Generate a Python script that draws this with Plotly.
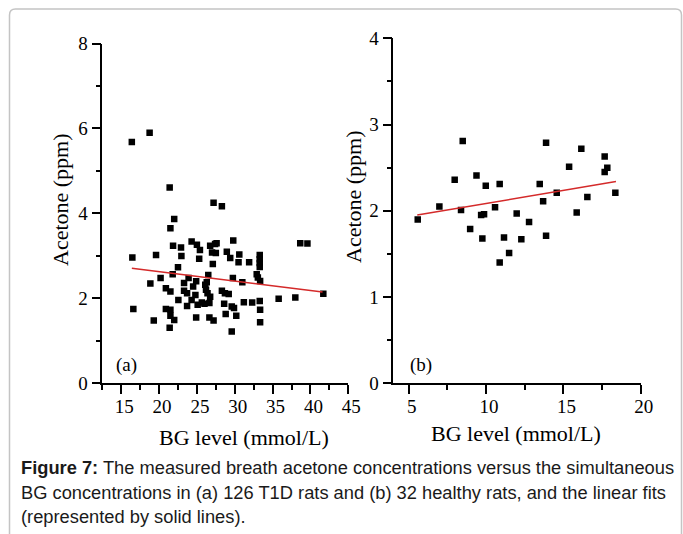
import plotly.graph_objects as go

# ---------------- data ----------------
# Panel (a): 126 T1D rats
bg_a = [16.4, 18.75, 21.4, 27.2, 28.3, 22.0, 21.5,
        16.47, 16.6, 19.6, 18.85, 19.3, 20.2, 20.9, 21.5, 20.9, 21.5,
        21.5, 22.0, 21.4, 21.85, 22.9, 22.95, 22.5, 21.8, 22.55, 23.7,
        23.3, 23.3, 23.9, 23.7, 24.3, 25.0, 25.4, 25.3, 24.9, 24.5,
        24.8, 24.3, 25.1, 24.9, 25.65, 26.3, 26.1, 26.2, 26.4, 26.5,
        26.75, 26.65, 26.0, 26.75, 27.0, 27.4, 27.6, 27.5, 27.1, 26.65,
        27.2,
        29.8, 30.6, 30.5, 31.9, 33.3, 33.3, 33.3, 33.3, 32.9, 33.05,
        33.35, 29.75, 31.0, 28.3, 28.7, 29.2, 28.6, 29.6, 29.9, 28.8,
        30.2, 29.6, 31.2, 32.3, 33.3, 33.35, 33.35, 35.8, 38.0, 38.65,
        39.6, 41.7, 28.95, 29.4]
acetone_a = [5.68, 5.90, 4.61, 4.25, 4.17, 3.87, 3.65,
             2.96, 1.75, 3.02, 2.35, 1.48, 2.48, 2.24, 2.16, 1.75, 1.73,
             1.59, 1.49, 1.31, 3.24, 3.20, 3.00, 2.73, 2.57, 1.96, 1.82,
             2.36, 2.18, 2.48, 2.12, 3.34, 3.26, 3.14, 2.93, 2.40, 2.28,
             2.08, 1.96, 1.85, 1.55, 1.90, 2.38, 2.32, 2.20, 2.12, 2.55,
             2.04, 1.89, 1.87, 3.24, 3.08, 3.28, 3.30, 3.07, 2.81, 1.55,
             1.48,
             3.36, 3.03, 2.85, 2.85, 3.02, 2.92, 2.83, 2.74, 2.57, 2.49,
             2.41, 2.48, 2.38, 2.18, 2.12, 2.10, 1.87, 1.81, 1.77, 1.63,
             1.59, 1.22, 1.91, 1.90, 1.94, 1.73, 1.44, 1.99, 2.02, 3.30,
             3.29, 2.11, 3.10, 2.95]
fit_a_x = [16.4, 41.6]
fit_a_y = [2.71, 2.15]

# Panel (b): 32 healthy rats
bg_b = [5.58, 6.98, 7.97, 8.38, 8.49, 8.97, 9.38, 9.68, 9.87, 9.76,
        9.98, 10.58, 10.88, 10.88, 11.16, 11.49, 11.98, 12.28, 12.78, 13.47,
        13.69, 13.88, 13.88, 14.57, 15.37, 15.86, 16.16, 16.55, 17.67, 17.67,
        17.84, 18.36]
acetone_b = [1.90, 2.05, 2.36, 2.01, 2.81, 1.79, 2.41, 1.95, 1.96, 1.68,
             2.29, 2.04, 2.31, 1.40, 1.69, 1.51, 1.97, 1.67, 1.87, 2.31,
             2.11, 2.79, 1.71, 2.21, 2.51, 1.98, 2.72, 2.16, 2.63, 2.45,
             2.50, 2.21]
fit_b_x = [5.55, 18.4]
fit_b_y = [1.95, 2.34]

x_ticks_a = [15, 20, 25, 30, 35, 40, 45]
y_ticks_a = [0, 2, 4, 6, 8]
x_ticks_b = [5, 10, 15, 20]
y_ticks_b = [0, 1, 2, 3, 4]

x_title = "BG level (mmol/L)"
y_title = "Acetone (ppm)"
caption_lines = [
    "<b>Figure 7:</b> The measured breath acetone concentrations versus the simultaneous",
    "BG concentrations in (a) 126 T1D rats and (b) 32 healthy rats, and the linear fits",
    "(represented by solid lines).",
]

# ---------------- figure ----------------
W, H = 683, 534
SERIF = "Liberation Serif, Times New Roman, serif"
SANS = "Liberation Sans, Arial, sans-serif"

def px(x):
    return x / W

def py(y):
    return 1 - y / H

fig = go.Figure()
marker = dict(symbol="square", size=6.5, color="black", line=dict(width=0))
fig.add_trace(go.Scatter(x=bg_a, y=acetone_a, mode="markers", marker=marker,
                         xaxis="x", yaxis="y", showlegend=False))
fig.add_trace(go.Scatter(x=fit_a_x, y=fit_a_y, mode="lines",
                         line=dict(color="#d42a2a", width=1.5),
                         xaxis="x", yaxis="y", showlegend=False))
fig.add_trace(go.Scatter(x=bg_b, y=acetone_b, mode="markers", marker=marker,
                         xaxis="x2", yaxis="y2", showlegend=False))
fig.add_trace(go.Scatter(x=fit_b_x, y=fit_b_y, mode="lines",
                         line=dict(color="#d42a2a", width=1.5),
                         xaxis="x2", yaxis="y2", showlegend=False))

def axis(domain, rng, ticks, minor_dtick, minor_tick0, anchor):
    return dict(
        domain=domain, range=rng, tickvals=ticks, ticktext=[str(t) for t in ticks],
        anchor=anchor, showline=True, linecolor="black", linewidth=1.5,
        ticks="outside", ticklen=9, tickwidth=1.5, tickcolor="black",
        showgrid=False, zeroline=False, fixedrange=True, automargin=False,
        tickfont=dict(family=SERIF, size=19, color="black"),
        minor=dict(ticks="outside", ticklen=5, tickwidth=1.5, tickcolor="black",
                   dtick=minor_dtick, tick0=minor_tick0, showgrid=False),
    )

fig.update_layout(
    template="none",
    width=W, height=H, autosize=False,
    margin=dict(l=0, r=0, t=0, b=0, pad=0),
    paper_bgcolor="white", plot_bgcolor="white",
    xaxis=axis([px(102.3), px(348.3)], [12.5, 45], x_ticks_a, 2.5, 12.5, "y"),
    yaxis=axis([py(383.3), py(43.5)], [0, 8], y_ticks_a, 1, 0, "x"),
    xaxis2=axis([px(393.3), px(640.7)], [4, 20], x_ticks_b, 2.5, 2.5, "y2"),
    yaxis2=axis([py(383.3), py(38.3)], [0, 4], y_ticks_b, 0.5, 0, "x2"),
)
fig.update_xaxes(ticklabelshift=3, ticklabelstandoff=-4)

annotations = [
    dict(text=x_title, x=px(244), y=py(437), xanchor="center", yanchor="middle",
         font=dict(family=SERIF, size=22, color="black")),
    dict(text=x_title, x=px(516), y=py(433), xanchor="center", yanchor="middle",
         font=dict(family=SERIF, size=22, color="black")),
    dict(text=y_title, x=px(60), y=py(200), textangle=-90, xanchor="center",
         yanchor="middle", font=dict(family=SERIF, size=22, color="black")),
    dict(text=y_title, x=px(353), y=py(197), textangle=-90, xanchor="center",
         yanchor="middle", font=dict(family=SERIF, size=22, color="black")),
    dict(text="(a)", x=px(126), y=py(365), xanchor="center", yanchor="middle",
         font=dict(family=SERIF, size=19, color="black")),
    dict(text="(b)", x=px(421), y=py(365), xanchor="center", yanchor="middle",
         font=dict(family=SERIF, size=19, color="black")),
]
for i, (line, yy) in enumerate(zip(caption_lines, [467.5, 492.0, 516.5])):
    annotations.append(dict(text=line, x=px(19), y=py(yy), xanchor="left",
                            yanchor="middle",
                            font=dict(family=SANS, size=18.3, color="#1a1a1a")))
for a in annotations:
    a.update(xref="paper", yref="paper", showarrow=False)
fig.update_layout(annotations=annotations)

# light rounded frame around the figure
x0, y0, x1, y1, r = px(9.5), py(9), px(681.5), py(545), 6
fig.add_shape(type="path", xref="paper", yref="paper",
              path=(f"M {x0} {py(9 + r)} Q {x0} {y0} {px(9.5 + r)} {y0} "
                    f"L {px(681.5 - r)} {y0} Q {x1} {y0} {x1} {py(9 + r)} "
                    f"L {x1} {y1} L {x0} {y1} Z"),
              line=dict(color="#c4c4c4", width=1.5), fillcolor="rgba(0,0,0,0)",
              layer="below")

fig.write_html(
    "out.html",
    config={"displayModeBar": False},
    post_script="document.body.style.margin='0';document.body.style.overflow='hidden';",
)
